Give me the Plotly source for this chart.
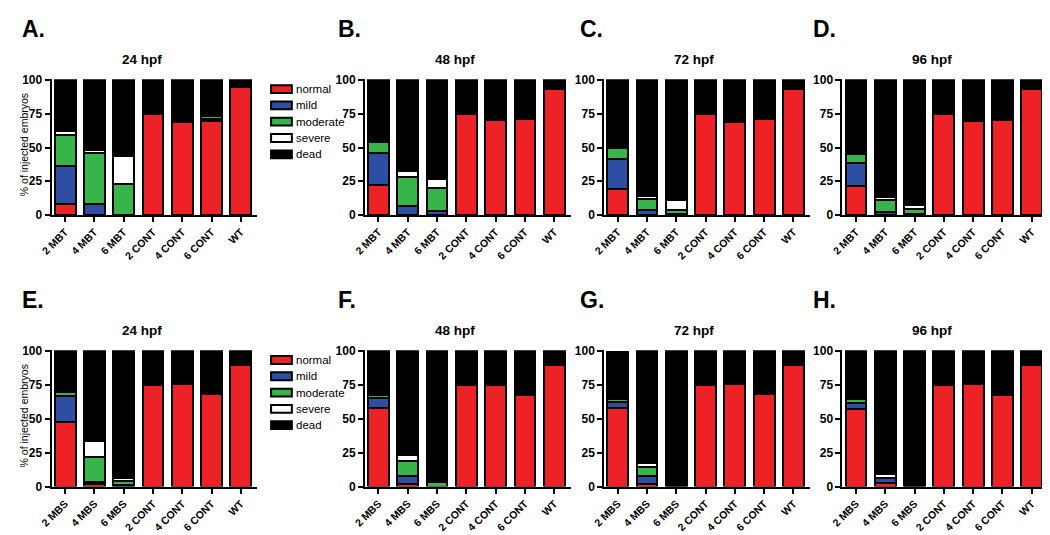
import plotly.graph_objects as go

# ---------------- data ----------------
SERIES = ["normal", "mild", "moderate", "severe", "dead"]
COLORS = ["#EC2227", "#2D4EA2", "#38B54A", "#FFFFFF", "#000000"]

CATS_MBT = ["2 MBT", "4 MBT", "6 MBT", "2 CONT", "4 CONT", "6 CONT", "WT"]
CATS_MBS = ["2 MBS", "4 MBS", "6 MBS", "2 CONT", "4 CONT", "6 CONT", "WT"]
TITLES = ["24 hpf", "48 hpf", "72 hpf", "96 hpf"]
LETTERS_TOP = ["A.", "B.", "C.", "D."]
LETTERS_BOT = ["E.", "F.", "G.", "H."]
Y_TICKS = [0, 25, 50, 75, 100]
Y_TITLE = "% of injected embryos"

# Panel A: 24 hpf (MBT)
A_normal   = [8, 0, 0, 75, 69, 70, 94.5]
A_mild     = [28, 8, 0, 0, 1, 1.5, 0]
A_moderate = [23, 38, 23, 1, 0, 1.5, 0]
A_severe   = [3, 2, 21, 0, 0, 0, 0]
A_dead     = [38, 52, 56, 24, 30, 27, 5.5]

# Panel B: 48 hpf (MBT)
B_normal   = [22, 0, 0, 74.5, 70.5, 71, 93.5]
B_mild     = [24, 7, 3, 0, 0, 0, 0]
B_moderate = [8, 21, 17, 0, 0, 0, 0]
B_severe   = [1.5, 4.5, 7, 0, 0, 0, 0]
B_dead     = [44.5, 67.5, 73, 25.5, 29.5, 29, 6.5]

# Panel C: 72 hpf (MBT)
C_normal   = [19.5, 0, 0, 74.5, 69, 71, 93.5]
C_mild     = [22, 4, 1, 0, 0, 0, 0]
C_moderate = [8, 7.5, 2.5, 0, 0, 0, 0]
C_severe   = [0, 2.5, 7.5, 2, 0, 0, 0]
C_dead     = [50.5, 86, 89, 23.5, 31, 29, 6.5]

# Panel D: 96 hpf (MBT)
D_normal   = [21.5, 0, 0, 74.5, 69.5, 70.5, 93.5]
D_mild     = [17, 2, 0.5, 0, 0, 0, 0]
D_moderate = [7, 9, 4, 0, 0, 0, 0]
D_severe   = [0, 2.5, 3, 0, 0, 0, 0]
D_dead     = [54.5, 86.5, 92.5, 25.5, 30.5, 29.5, 6.5]

# Panel E: 24 hpf (MBS)
E_normal   = [47.5, 1.5, 0, 74.5, 75.5, 68.5, 89.5]
E_mild     = [19, 2, 1, 0, 0, 0, 0]
E_moderate = [3, 18, 3, 0, 0, 1.5, 0]
E_severe   = [0, 12, 2.5, 0, 0, 0, 0]
E_dead     = [30.5, 66.5, 93.5, 25.5, 24.5, 30, 10.5]

# Panel F: 48 hpf (MBS)
F_normal   = [58, 1.5, 0, 74.5, 75, 67.5, 89.5]
F_mild     = [7, 6, 0, 0, 0, 0, 0]
F_moderate = [2.5, 11, 3, 0, 0, 1.5, 0]
F_severe   = [0, 4.5, 0, 0, 0, 0, 0]
F_dead     = [32.5, 77, 97, 25.5, 25, 31, 10.5]

# Panel G: 72 hpf (MBS)
G_normal   = [58, 2, 0, 74.5, 75.5, 68, 89.5]
G_mild     = [4, 5.5, 0, 0, 0, 0, 0]
G_moderate = [2.5, 7, 0, 0, 0, 1.5, 0]
G_severe   = [0, 3, 0, 0, 0, 0, 0]
G_dead     = [35, 82.5, 100, 25.5, 24.5, 30.5, 10.5]

# Panel H: 96 hpf (MBS)
H_normal   = [57.5, 2.5, 0, 74.5, 75.5, 67.5, 89.5]
H_mild     = [4, 3.5, 0, 0, 0, 0, 0]
H_moderate = [3, 0.5, 0, 0, 0, 1.5, 0]
H_severe   = [0, 3, 0, 0, 0, 0, 0]
H_dead     = [35.5, 90.5, 100, 25.5, 24.5, 31, 10.5]

PANELS = [
    (CATS_MBT, [A_normal, A_mild, A_moderate, A_severe, A_dead]),
    (CATS_MBT, [B_normal, B_mild, B_moderate, B_severe, B_dead]),
    (CATS_MBT, [C_normal, C_mild, C_moderate, C_severe, C_dead]),
    (CATS_MBT, [D_normal, D_mild, D_moderate, D_severe, D_dead]),
    (CATS_MBS, [E_normal, E_mild, E_moderate, E_severe, E_dead]),
    (CATS_MBS, [F_normal, F_mild, F_moderate, F_severe, F_dead]),
    (CATS_MBS, [G_normal, G_mild, G_moderate, G_severe, G_dead]),
    (CATS_MBS, [H_normal, H_mild, H_moderate, H_severe, H_dead]),
]

# ---------------- layout geometry (screen pixels of the reference) ----------------
W, H = 1050, 535
OFF = 8  # page body margin offset
FONT = "Liberation Sans, Arial, Helvetica, sans-serif"
X_SPANS = [(40, 248), (357, 565), (599, 807), (840, 1048)]
ROW_Y = [(75.0, 214.0), (352.6, 492.3)]   # (top px, bottom px)
ROW_SHIFT = [0, 277.6]


def px(x):
    return (x - OFF) / W


def py(y):
    return 1 - (y - OFF) / H


fig = go.Figure()

for i, (cats, vals) in enumerate(PANELS):
    n = i + 1
    for s, (name, col) in enumerate(zip(SERIES, COLORS)):
        fig.add_trace(go.Bar(
            x=cats, y=[v if v > 0 else None for v in vals[s]],
            name=name, marker=dict(color=col, line=dict(color="black", width=2)),
            xaxis=f"x{n}", yaxis=f"y{n}", showlegend=False, hoverinfo="x+y+name",
        ))
    col_i, row_i = i % 4, i // 4
    x0, x1 = X_SPANS[col_i]
    ytop, ybot = ROW_Y[row_i]
    suffix = "" if n == 1 else str(n)
    fig.layout["xaxis" + suffix] = dict(
        domain=[px(x0), px(x1)], anchor=f"y{n}", type="category",
        range=[-0.46, 6.56], showline=True, linecolor="black", linewidth=2,
        ticks="outside", ticklen=5, tickwidth=2, tickcolor="black",
        tickangle=-45, tickfont=dict(family=FONT, size=10.5, color="black", weight="bold"),
        showgrid=False, zeroline=False, fixedrange=True,
    )
    fig.layout["yaxis" + suffix] = dict(
        domain=[py(ybot), py(ytop)], anchor=f"x{n}", range=[0, 100.5],
        tickvals=Y_TICKS, showline=True, linecolor="black", linewidth=2,
        ticks="outside", ticklen=5, tickwidth=2, tickcolor="black",
        tickfont=dict(family=FONT, size=12, color="black", weight="bold"),
        showgrid=False, zeroline=False, fixedrange=True,
    )

annotations = []
shapes = []

# titles and panel letters
LETTER_X = [8, 328, 572, 808]
for r in range(2):
    letters = LETTERS_TOP if r == 0 else LETTERS_BOT
    for c in range(4):
        x0, x1 = X_SPANS[c]
        annotations.append(dict(
            x=px((x0 + x1) / 2 - 13), y=py(55 + ROW_SHIFT[r]), xref="paper", yref="paper",
            text=TITLES[c], showarrow=False, xanchor="center", yanchor="middle",
            font=dict(family=FONT, size=13.5, color="black", weight="bold"),
        ))
        annotations.append(dict(
            x=px(LETTER_X[c]), y=py(8 + ROW_SHIFT[r]), xref="paper", yref="paper",
            text=letters[c], showarrow=False, xanchor="left", yanchor="top",
            font=dict(family=FONT, size=23, color="black", weight="bold"),
        ))
    # y-axis title
    ytop, ybot = ROW_Y[r]
    annotations.append(dict(
        x=px(12), y=py((ytop + ybot) / 2 - 3), xref="paper", yref="paper",
        text=Y_TITLE, showarrow=False, textangle=-90, xanchor="center", yanchor="middle",
        font=dict(family=FONT, size=10.5, color="black"),
    ))
    # legend
    for k, (name, col) in enumerate(zip(SERIES, COLORS)):
        cy = 85 + ROW_SHIFT[r] + k * 16.7
        shapes.append(dict(
            type="rect", xref="paper", yref="paper",
            x0=px(262), x1=px(283), y0=py(cy - 4), y1=py(cy + 4),
            fillcolor=col, line=dict(color="black", width=2),
        ))
        annotations.append(dict(
            x=px(285), y=py(cy), xref="paper", yref="paper", text=name,
            showarrow=False, xanchor="left", yanchor="middle",
            font=dict(family=FONT, size=11.5, color="black"),
        ))

fig.update_layout(
    width=W, height=H, margin=dict(l=0, r=0, t=0, b=0),
    paper_bgcolor="white", plot_bgcolor="white",
    barmode="stack", bargap=0.29, showlegend=False,
    annotations=annotations, shapes=shapes,
    font=dict(family=FONT, color="black"),
)

fig.write_html("out.html")
